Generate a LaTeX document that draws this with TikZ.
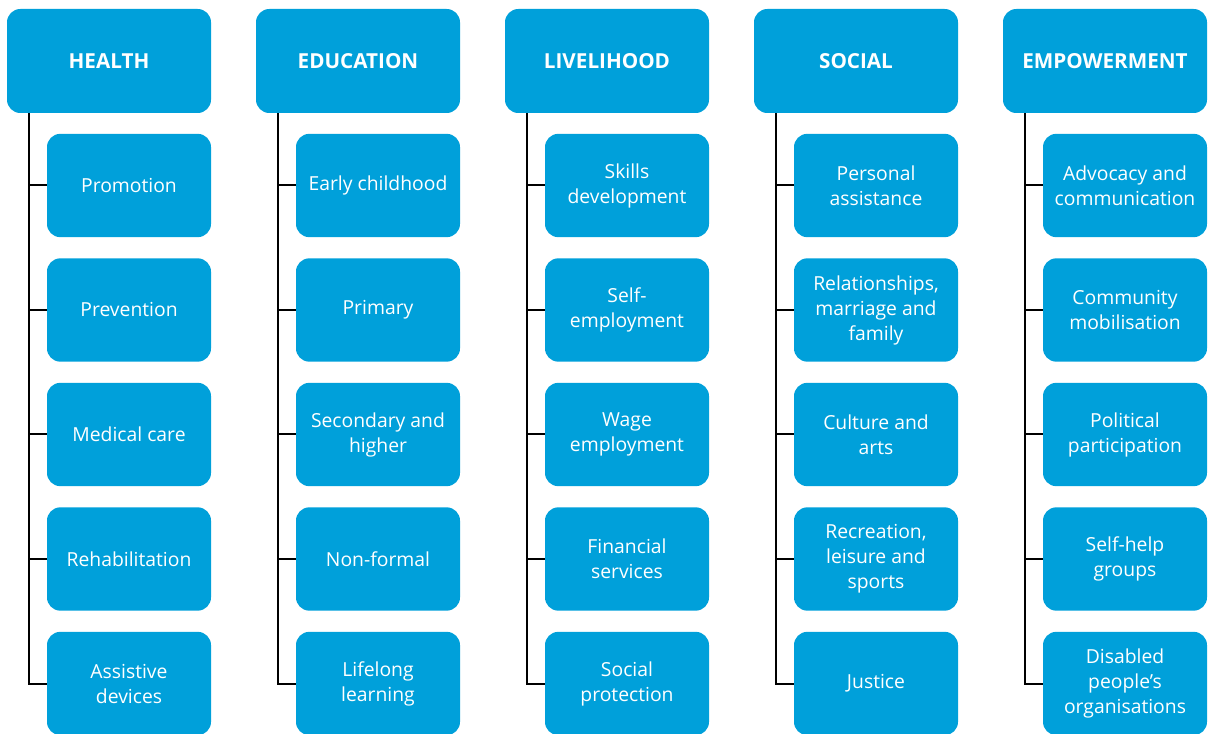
\documentclass[tikz,border=0pt]{standalone}
\usepackage{fontspec}
\setmainfont{Open Sans}
\definecolor{boxblue}{RGB}{0,160,218}
\tikzset{
  hdr/.style={fill=boxblue, draw=none, rounded corners=10pt, minimum width=153pt, minimum height=78pt, text=white, font=\fontsize{15.5}{18.75}\selectfont\bfseries, align=center, inner sep=0pt},
  sub/.style={fill=boxblue, draw=none, rounded corners=10pt, minimum width=123pt, minimum height=77.5pt, text=white, font=\fontsize{14.5}{18.75}\selectfont, align=center, inner sep=0pt},
  conn/.style={draw=black, line width=1.5pt}
}
\begin{document}
\begin{tikzpicture}[x=0.75pt, y=-0.75pt]
\useasboundingbox (0,0) rectangle (1208,734);
\foreach \i/\L/\H in {1/7/HEALTH, 2/256/EDUCATION, 3/505/LIVELIHOOD, 4/754/SOCIAL, 5/1003/EMPOWERMENT}{
  \node[hdr] (h\i) at (\L+102,61) {\H};
}
% HEALTH
\node[sub] (c1-1) at (129,185.5) {Promotion};
\node[sub] (c1-2) at (129,310) {Prevention};
\node[sub] (c1-3) at (129,434.5) {Medical care};
\node[sub] (c1-4) at (129,559) {Rehabilitation};
\node[sub] (c1-5) at (129,683.5) {Assistive\\devices};
% EDUCATION
\node[sub] (c2-1) at (378,185.5) {Early childhood};
\node[sub] (c2-2) at (378,310) {Primary};
\node[sub] (c2-3) at (378,434.5) {Secondary and\\higher};
\node[sub] (c2-4) at (378,559) {Non-formal};
\node[sub] (c2-5) at (378,683.5) {Lifelong\\learning};
% LIVELIHOOD
\node[sub] (c3-1) at (627,185.5) {Skills\\development};
\node[sub] (c3-2) at (627,310) {Self-\\employment};
\node[sub] (c3-3) at (627,434.5) {Wage\\employment};
\node[sub] (c3-4) at (627,559) {Financial\\services};
\node[sub] (c3-5) at (627,683.5) {Social\\protection};
% SOCIAL
\node[sub] (c4-1) at (876,185.5) {Personal\\assistance};
\node[sub] (c4-2) at (876,310) {Relationships,\\marriage and\\family};
\node[sub] (c4-3) at (876,434.5) {Culture and\\arts};
\node[sub] (c4-4) at (876,559) {Recreation,\\leisure and\\sports};
\node[sub] (c4-5) at (876,683.5) {Justice};
% EMPOWERMENT
\node[sub] (c5-1) at (1125,185.5) {Advocacy and\\communication};
\node[sub] (c5-2) at (1125,310) {Community\\mobilisation};
\node[sub] (c5-3) at (1125,434.5) {Political\\participation};
\node[sub] (c5-4) at (1125,559) {Self-help\\groups};
\node[sub] (c5-5) at (1125,683.5) {Disabled\\people’s\\organisations};
\foreach \i in {1,...,5}{
  \foreach \j in {1,...,5}{
    \draw[conn] ([xshift=16.5pt]h\i.south west) |- (c\i-\j.west);
  }
}
\end{tikzpicture}
\end{document}
